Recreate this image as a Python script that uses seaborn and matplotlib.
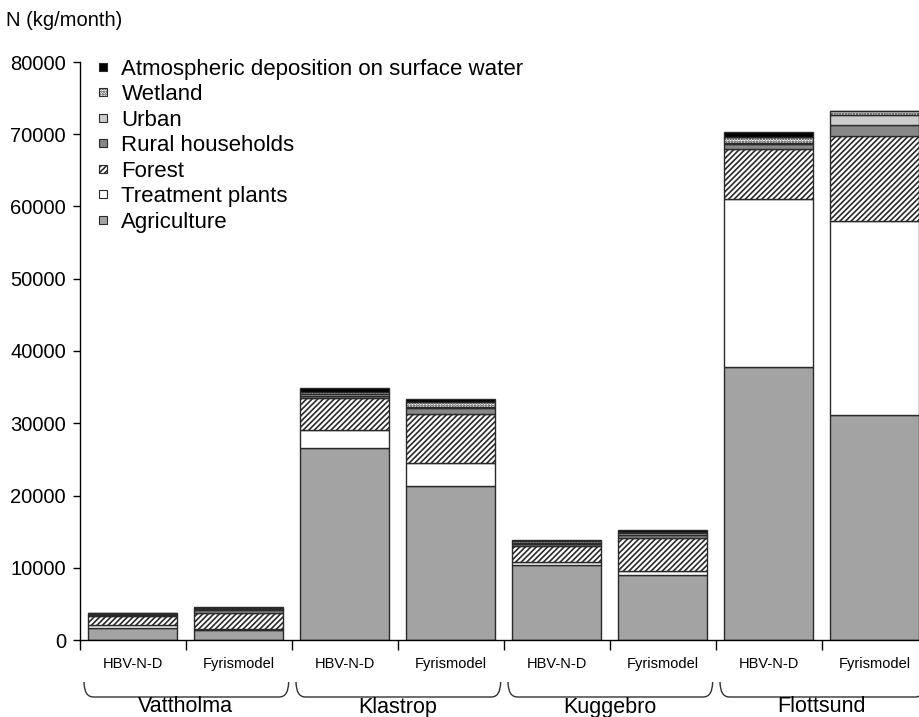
import numpy as np
import pandas as pd
import matplotlib
matplotlib.use("Agg")
import matplotlib.pyplot as plt
import seaborn as sns
from matplotlib.patches import Patch
from matplotlib.path import Path
from matplotlib.patches import PathPatch
import matplotlib.transforms as mtransforms
from matplotlib import font_manager

# ---- data ----
stations = ["Vattholma", "Klastrop", "Kuggebro", "Flottsund"]
models = ["HBV-N-D", "Fyrismodel"]
bar_ids = [f"{s}|{m}" for s in stations for m in models]

agriculture = [1700, 1400, 26600, 21300, 10400, 9000, 37800, 31200]
treatment = [400, 100, 2500, 3150, 350, 550, 23200, 26800]
forest = [1250, 2300, 4380, 6800, 2300, 4550, 6900, 11760]
rural = [150, 300, 300, 830, 250, 400, 700, 1560]
urban = [80, 150, 200, 230, 150, 250, 230, 1330]
wetland = [100, 150, 350, 650, 200, 200, 740, 500]
atmos = [100, 100, 550, 370, 250, 250, 780, 60]

sources = ["Agriculture", "Treatment plants", "Forest", "Rural households",
           "Urban", "Wetland", "Atmospheric deposition on surface water"]
values = [agriculture, treatment, forest, rural, urban, wetland, atmos]
face = ["#a3a3a3", "white", "white", "#878787", "#cdcdcd", "white", "black"]
hatches = [None, None, "//////", None, None, "......", None]

y_ticks = [0, 10000, 20000, 30000, 40000, 50000, 60000, 70000, 80000]

plt.rcParams["font.family"] = ["Liberation Sans", "DejaVu Sans"]
plt.rcParams["hatch.linewidth"] = 1.2

available = {f.name for f in font_manager.fontManager.ttflist}
narrow = "Liberation Sans Narrow" if "Liberation Sans Narrow" in available else "Liberation Sans"

fig = plt.figure(figsize=(9.2, 7.17), dpi=100)
ax = fig.add_axes([79.8 / 920, (717 - 640) / 717, 848 / 920, 578 / 717])

bottom = np.zeros(len(bar_ids))
for name, vals, fc, h in zip(sources, values, face, hatches):
    df = pd.DataFrame({"bar": bar_ids, "value": vals})
    sns.barplot(data=df, x="bar", y="value", order=bar_ids, ax=ax,
                bottom=bottom, color=fc, saturation=1, errorbar=None,
                width=0.84, edgecolor="#2a2a2a", linewidth=1.0, hatch=h)
    bottom = bottom + np.array(vals)

ax.set_xlabel("")
ax.set_ylabel("")
ax.set_ylim(0, 80000)
ax.set_xlim(-0.5, 7.5)
ax.set_yticks(y_ticks)
ax.set_yticklabels([str(v) for v in y_ticks], fontsize=14.5)
ax.tick_params(axis="y", direction="out", length=5, width=1, pad=5)
ax.set_xticks(range(len(bar_ids)))
xsize = 12 if narrow != "Liberation Sans" else 10.5
ax.set_xticklabels([m for s in stations for m in models],
                   fontsize=xsize, family=[narrow, "DejaVu Sans"])
ax.set_xticks(np.arange(-0.5, 8, 1.0), minor=True)
ax.tick_params(axis="x", which="major", length=0, pad=12)
ax.tick_params(axis="x", which="minor", length=7, width=1, direction="out")
for sp in ["top", "right"]:
    ax.spines[sp].set_visible(False)
for sp in ["left", "bottom"]:
    ax.spines[sp].set_linewidth(1.0)
    ax.spines[sp].set_color("black")

fig.text(6 / 920, 1 - 20 / 717, "N (kg/month)", fontsize=14.5, va="center", ha="left")

# braces and group labels
trans = mtransforms.blended_transform_factory(ax.transData, ax.transAxes)
y_top = -(682 - 640) / 578
y_bot = -(697 - 640) / 578
for i, s in enumerate(stations):
    x0 = -0.5 + 2 * i + 0.04
    x1 = 1.5 + 2 * i - 0.03
    d = 0.09
    verts = [(x0, y_top), (x0, y_bot), (x0 + d, y_bot),
             (x1 - d, y_bot),
             (x1, y_bot), (x1, y_top)]
    codes = [Path.MOVETO, Path.CURVE3, Path.CURVE3, Path.LINETO,
             Path.CURVE3, Path.CURVE3]
    pp = PathPatch(Path(verts, codes), transform=trans, fill=False,
                   edgecolor="#333333", linewidth=1.0, clip_on=False)
    ax.add_patch(pp)
    ax.text(0.5 + 2 * i, -(707 - 640) / 578, s, transform=trans,
            ha="center", va="center", fontsize=15.5)

handles = [Patch(facecolor=fc, edgecolor="#2a2a2a", hatch=h, linewidth=0.8)
           for fc, h in zip(face, hatches)]
leg = ax.legend(handles[::-1], sources[::-1], loc="upper left",
                bbox_to_anchor=(99 / 920, 1 - 59 / 717),
                bbox_transform=fig.transFigure, frameon=False, fontsize=16,
                handlelength=0.36, handleheight=0.18, handletextpad=0.65,
                labelspacing=0.2, borderaxespad=0, borderpad=0)

fig.savefig("out.png", dpi=100)
